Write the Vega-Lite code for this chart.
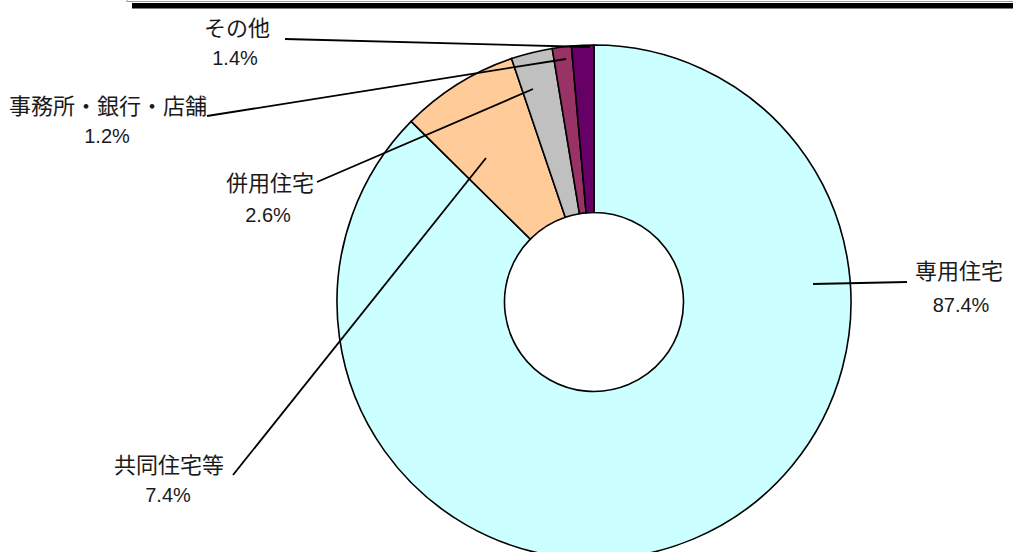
{
  "$schema": "https://vega.github.io/schema/vega-lite/v6.json",
  "width": 1013,
  "height": 552,
  "padding": 0,
  "autosize": {"type": "none"},
  "background": "white",
  "config": {"view": {"stroke": null}},
  "datasets": {
    "shares": [
      {"category": "専用住宅", "value": 87.4, "seq": 1},
      {"category": "共同住宅等", "value": 7.4, "seq": 2},
      {"category": "併用住宅", "value": 2.6, "seq": 3},
      {"category": "事務所・銀行・店舗", "value": 1.2, "seq": 4},
      {"category": "その他", "value": 1.4, "seq": 5}
    ],
    "labels": [
      {"category": "専用住宅", "pct": "87.4%", "nx": 959, "ny": 272, "px": 961, "py": 306, "lx1": 813, "ly1": 284, "lx2": 907, "ly2": 282},
      {"category": "共同住宅等", "pct": "7.4%", "nx": 169, "ny": 466, "px": 168, "py": 496, "lx1": 233, "ly1": 475, "lx2": 486, "ly2": 158},
      {"category": "併用住宅", "pct": "2.6%", "nx": 270, "ny": 184, "px": 268, "py": 216, "lx1": 317, "ly1": 182, "lx2": 533, "ly2": 89},
      {"category": "事務所・銀行・店舗", "pct": "1.2%", "nx": 108, "ny": 107, "px": 107, "py": 137, "lx1": 207, "ly1": 116, "lx2": 566, "ly2": 59},
      {"category": "その他", "pct": "1.4%", "nx": 237, "ny": 29, "px": 235, "py": 59, "lx1": 285, "ly1": 39, "lx2": 590, "ly2": 47}
    ],
    "frame": [
      {"kind": "edge", "x1": 127, "x2": 1013, "y1": 1.5, "y2": 1.5},
      {"kind": "edge", "x1": 127, "x2": 127, "y1": 0, "y2": 2}
    ]
  },
  "layer": [
    {
      "data": {"name": "frame"},
      "mark": {"type": "rule", "stroke": "#9a9a9a", "strokeWidth": 1},
      "encoding": {
        "x": {"field": "x1", "type": "quantitative", "scale": {"domain": [0, 1013], "nice": false, "zero": false}, "axis": null},
        "x2": {"field": "x2"},
        "y": {"field": "y1", "type": "quantitative", "scale": {"domain": [0, 552], "nice": false, "zero": false, "reverse": true}, "axis": null},
        "y2": {"field": "y2"}
      }
    },
    {
      "data": {"values": [{"k": 1}]},
      "mark": {"type": "rect", "fill": "black"},
      "encoding": {
        "x": {"datum": 132, "type": "quantitative", "scale": {"domain": [0, 1013], "nice": false, "zero": false}, "axis": null},
        "x2": {"datum": 1013},
        "y": {"datum": 3, "type": "quantitative", "scale": {"domain": [0, 552], "nice": false, "zero": false, "reverse": true}, "axis": null},
        "y2": {"datum": 8.5}
      }
    },
    {
      "data": {"name": "shares"},
      "mark": {"type": "arc", "radius": 257, "radius2": 89.5, "stroke": "black", "strokeWidth": 1.6},
      "encoding": {
        "x": {"datum": 594, "type": "quantitative", "scale": {"domain": [0, 1013], "nice": false, "zero": false}, "axis": null},
        "y": {"datum": 302, "type": "quantitative", "scale": {"domain": [0, 552], "nice": false, "zero": false, "reverse": true}, "axis": null},
        "theta": {"field": "value", "type": "quantitative", "stack": true},
        "order": {"field": "seq", "type": "quantitative"},
        "color": {
          "field": "category",
          "type": "nominal",
          "scale": {
            "domain": ["専用住宅", "共同住宅等", "併用住宅", "事務所・銀行・店舗", "その他"],
            "range": ["#CCFFFF", "#FFCC99", "#C0C0C0", "#993366", "#660066"]
          },
          "legend": null
        }
      }
    },
    {
      "data": {"name": "labels"},
      "mark": {"type": "rule", "stroke": "black", "strokeWidth": 1.8},
      "encoding": {
        "x": {"field": "lx1", "type": "quantitative", "scale": {"domain": [0, 1013], "nice": false, "zero": false}, "axis": null},
        "y": {"field": "ly1", "type": "quantitative", "scale": {"domain": [0, 552], "nice": false, "zero": false, "reverse": true}, "axis": null},
        "x2": {"field": "lx2"},
        "y2": {"field": "ly2"}
      }
    },
    {
      "data": {"name": "labels"},
      "mark": {"type": "text", "font": "Noto Sans CJK JP", "fontSize": 22, "fontWeight": "normal", "align": "center", "baseline": "middle", "fill": "#1a1a1a"},
      "encoding": {
        "x": {"field": "nx", "type": "quantitative", "scale": {"domain": [0, 1013], "nice": false, "zero": false}, "axis": null},
        "y": {"field": "ny", "type": "quantitative", "scale": {"domain": [0, 552], "nice": false, "zero": false, "reverse": true}, "axis": null},
        "text": {"field": "category"}
      }
    },
    {
      "data": {"name": "labels"},
      "mark": {"type": "text", "font": "Liberation Sans", "fontSize": 20, "align": "center", "baseline": "middle", "fill": "#1a1a1a"},
      "encoding": {
        "x": {"field": "px", "type": "quantitative", "scale": {"domain": [0, 1013], "nice": false, "zero": false}, "axis": null},
        "y": {"field": "py", "type": "quantitative", "scale": {"domain": [0, 552], "nice": false, "zero": false, "reverse": true}, "axis": null},
        "text": {"field": "pct"}
      }
    }
  ]
}
